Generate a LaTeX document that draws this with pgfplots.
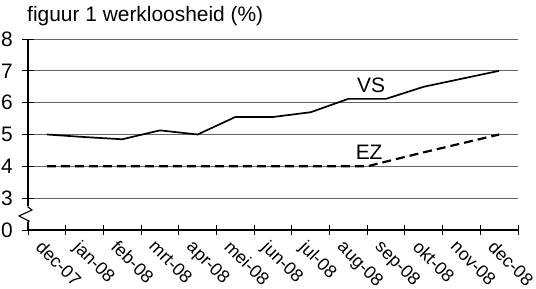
\documentclass[border=0pt]{standalone}
\usepackage{fontspec}
\setmainfont{Liberation Sans}
\usepackage{pgfplots}
\pgfplotsset{compat=1.18}
\begin{document}
\begin{tikzpicture}[font=\fontsize{21}{23}\selectfont]
\path[use as bounding box] (0,0) rectangle (536bp,289bp);
\begin{axis}[
  at={(28bp,59bp)}, anchor=south west,
  scale only axis, width=490bp, height=191bp,
  xmin=-0.5, xmax=12.5, ymin=2, ymax=8,
  clip=false,
  axis x line=bottom, axis y line=left,
  axis line style={-, line width=1.1pt},
  tick align=center,
  ytick={2,3,4,5,6,7,8},
  yticklabels={0,3,4,5,6,7,8},
  ymajorgrids,
  grid style={gray!80!black, line width=0.8pt},
  major tick length=12bp,
  minor tick length=11bp,
  tick style={black, line width=1pt},
  yticklabel style={font=\fontsize{21}{23}\selectfont, anchor=east, inner sep=0pt, xshift=-9bp},
  xtick={0,...,12},
  xticklabels={dec-07,jan-08,feb-08,mrt-08,apr-08,mei-08,jun-08,jul-08,aug-08,sep-08,okt-08,nov-08,dec-08},
  major x tick style={draw=none},
  minor xtick={-0.5,0.5,...,12.5},
  xticklabel style={font=\fontsize{18}{20}\selectfont, rotate=-45, anchor=north west, inner sep=0pt, xshift=0bp, yshift=-4bp},
  /pgf/number format/assume math mode=true,
  title={figuur 1 werkloosheid (\%)},
  title style={at={(0,1)}, anchor=base west, xshift=-1bp, yshift=12bp, inner sep=0pt},
]
\addplot[black, line width=1.7pt] coordinates {
 (0,5.0) (1,4.92) (2,4.85) (3,5.13) (4,5.0) (5,5.55) (6,5.55) (7,5.7) (8,6.12) (9,6.12) (10,6.5) (11,6.75) (12,7.0)
};
\addplot[black, line width=2.2pt, dash pattern=on 9bp off 5bp] coordinates {
 (0,4.0) (1,4.0) (2,4.0) (3,4.0) (4,4.0) (5,4.0) (6,4.0) (7,4.0) (8,4.0) (8.5,4.0) (9,4.15) (10,4.44) (11,4.72) (12,5.0)
};
\node at (axis cs:8.6,6.55) {VS};
\node at (axis cs:8.55,4.45) {EZ};
\fill[white] (axis cs:-0.56,2.24) rectangle (axis cs:-0.4,2.74);
\draw[black, line width=1.1pt] (axis cs:-0.5,2.74) -- (axis cs:-0.5,2.72) -- (axis cs:-0.394,2.63) -- (axis cs:-0.739,2.44) -- (axis cs:-0.473,2.28) -- (axis cs:-0.5,2.25) -- (axis cs:-0.5,2.23);
\end{axis}
\end{tikzpicture}
\end{document}
